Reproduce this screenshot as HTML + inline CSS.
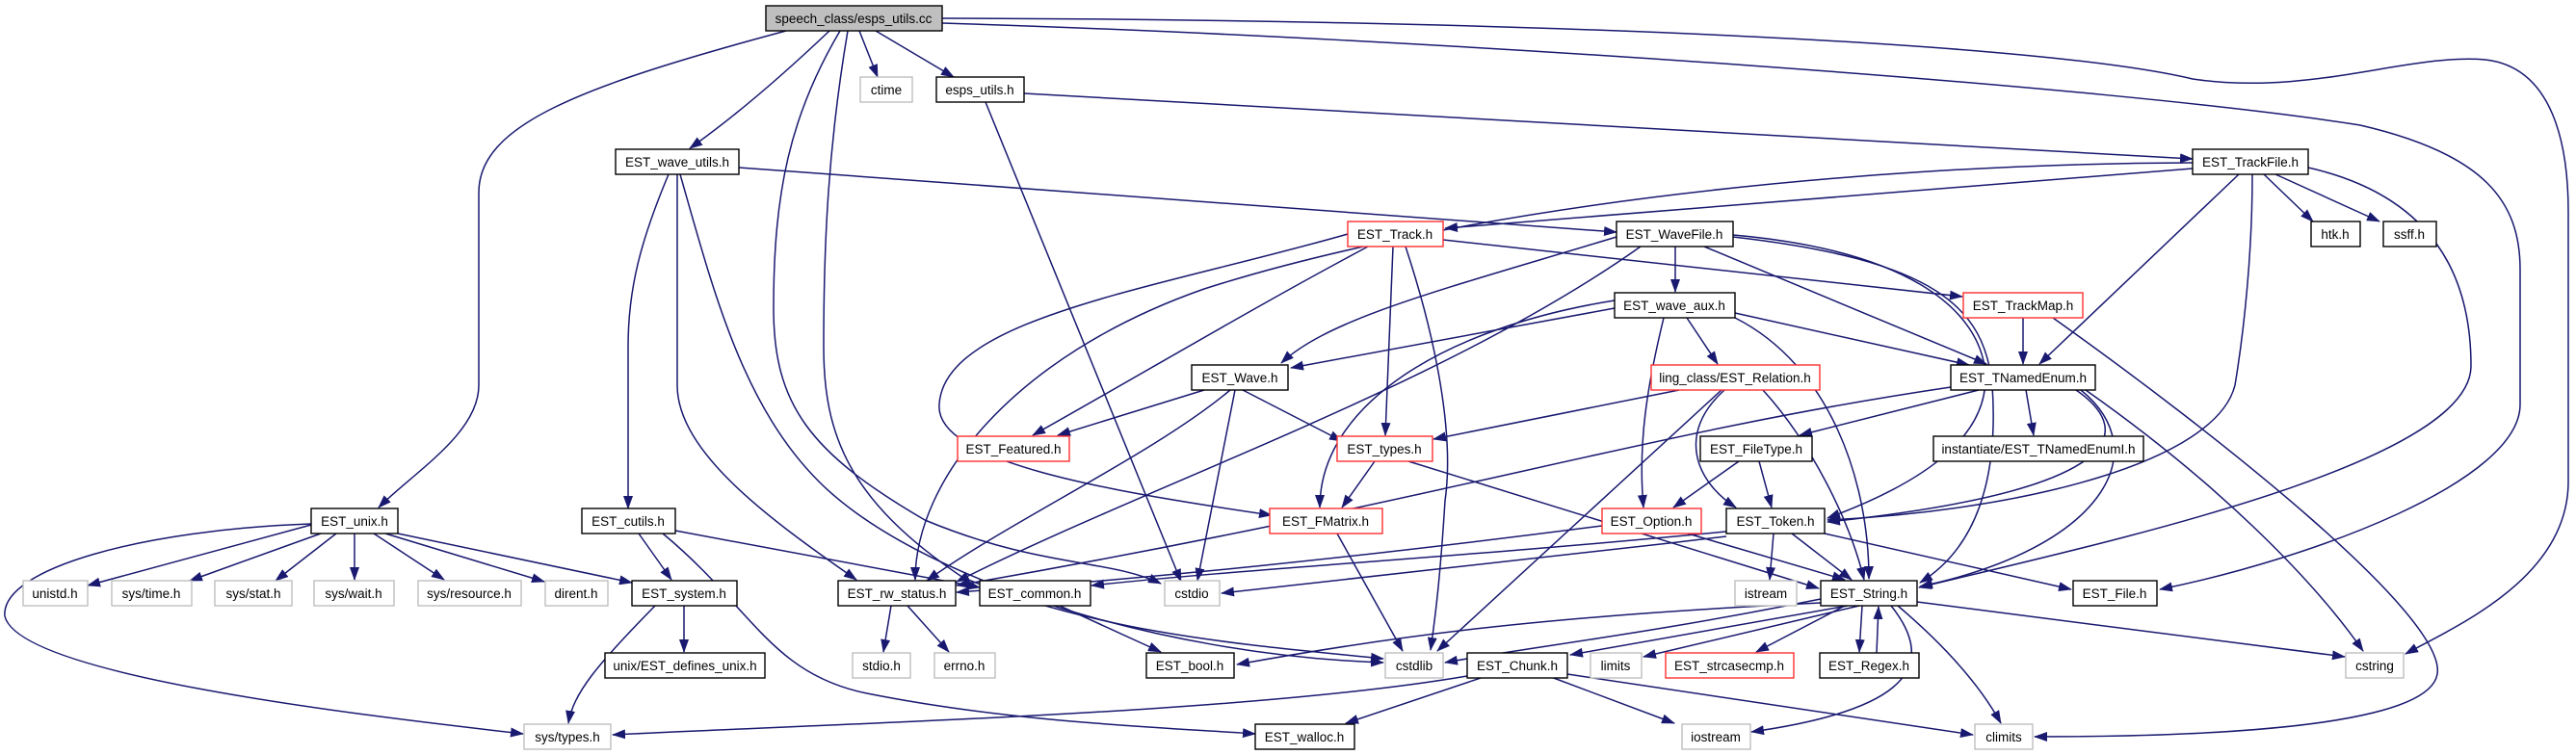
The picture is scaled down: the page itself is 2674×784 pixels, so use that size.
<!DOCTYPE html>
<html><head><meta charset="utf-8"><style>
html,body{margin:0;padding:0;background:#fff;}
svg{display:block;}
text{font-family:"Liberation Sans",Arial,sans-serif;font-size:13.5px;fill:#000;text-anchor:middle;}
.e{fill:none;stroke:#191970;stroke-width:1.5;marker-end:url(#a);}
.n{fill:#fff;stroke:#000;stroke-width:1.4;}
.g{fill:#fff;stroke:#bfbfbf;stroke-width:1.4;}
.r{fill:#fff;stroke:#ff3030;stroke-width:1.4;}
</style></head><body>
<svg width="2674" height="784" viewBox="0 0 2674 784" xmlns="http://www.w3.org/2000/svg">
<defs><marker id="a" markerWidth="14" markerHeight="10" refX="13" refY="5" orient="auto" markerUnits="userSpaceOnUse"><path d="M0,0 L14,5 L0,10 z" fill="#191970"/></marker></defs>
<!-- edges -->
<path class="e" d="M816,32 C600,90 497,130 497,200 L497,400 C497,450 430,490 393,527"/>
<path class="e" d="M861,32 C800,90 750,130 716,154"/>
<path class="e" d="M872,32 C820,120 803,200 803,320 C803,420 840,470 960,540 C1080,590 1150,580 1205,606"/>
<path class="e" d="M880,32 C860,150 855,250 855,360 C855,450 880,520 1000,600 C1150,660 1300,670 1436,684"/>
<path class="e" d="M892,32 L911,80"/>
<path class="e" d="M909,32 L990,80"/>
<path class="e" d="M978,19 C1500,20 2100,40 2276,82 C2400,100 2500,55 2580,62 C2650,70 2666,150 2666,220 L2666,500 C2666,600 2550,650 2497,679"/>
<path class="e" d="M978,24 C1500,40 2200,90 2450,130 C2580,160 2616,210 2616,280 L2616,420 C2616,500 2400,580 2242,612"/>
<path class="e" d="M1063,97 L2276,165"/>
<path class="e" d="M1023,106 L1226,604"/>
<path class="e" d="M767,174 L1678,241"/>
<path class="e" d="M694,181 C665,250 652,300 652,360 L652,528"/>
<path class="e" d="M703,181 L703,400 C703,470 800,540 889,602"/>
<path class="e" d="M706,181 C740,300 770,420 850,500 C950,600 1200,680 1436,688"/>
<path class="e" d="M2276,169 C1900,170 1500,220 1250,300 C1050,370 950,500 950,602"/>
<path class="e" d="M2276,175 L1500,237"/>
<path class="e" d="M2324,181 L2117,378"/>
<path class="e" d="M2338,181 C2338,260 2330,340 2320,400 C2300,480 2100,530 1897,540"/>
<path class="e" d="M2350,181 L2401,230"/>
<path class="e" d="M2362,181 L2470,230"/>
<path class="e" d="M2396,174 C2510,200 2565,270 2565,380 C2565,480 2200,560 1992,610"/>
<path class="e" d="M1498,249 L2037,308"/>
<path class="e" d="M1420,256 C1300,320 1200,380 1072,452"/>
<path class="e" d="M1446,256 L1438,452"/>
<path class="e" d="M1459,256 C1490,350 1510,450 1500,520 C1495,600 1490,640 1485,675"/>
<path class="e" d="M1399,243 C1200,300 980,330 975,420 C970,480 1150,510 1320,535"/>
<path class="e" d="M1739,256 L1739,303"/>
<path class="e" d="M1678,246 C1500,300 1380,330 1330,377"/>
<path class="e" d="M1703,256 C1500,400 1200,500 993,604"/>
<path class="e" d="M1769,256 L2062,378"/>
<path class="e" d="M1799,244 C1980,260 2050,320 2060,380 C2070,450 2000,500 1897,538"/>
<path class="e" d="M1799,246 C2010,270 2060,320 2068,400 C2075,500 2050,570 1993,605"/>
<path class="e" d="M1676,320 L1340,382"/>
<path class="e" d="M1676,312 C1500,340 1370,420 1370,527"/>
<path class="e" d="M1727,330 C1710,400 1700,460 1706,527"/>
<path class="e" d="M1751,330 L1783,378"/>
<path class="e" d="M1801,325 L2044,379"/>
<path class="e" d="M1801,330 C1900,380 1940,500 1940,601"/>
<path class="e" d="M2100,330 L2100,378"/>
<path class="e" d="M2131,330 C2300,450 2540,640 2530,700 C2520,760 2250,765 2112,765"/>
<path class="e" d="M1743,405 L1488,456"/>
<path class="e" d="M1787,405 L1492,676"/>
<path class="e" d="M1790,405 C1740,450 1760,500 1802,527"/>
<path class="e" d="M1830,405 C1880,460 1920,540 1935,602"/>
<path class="e" d="M2054,405 L1868,452"/>
<path class="e" d="M2103,405 L2111,452"/>
<path class="e" d="M2025,402 C1700,450 1500,520 993,608"/>
<path class="e" d="M2155,405 C2220,450 2200,510 1897,542"/>
<path class="e" d="M2160,405 C2240,470 2180,570 1993,609"/>
<path class="e" d="M2165,405 C2300,500 2400,600 2453,676"/>
<path class="e" d="M1250,405 L1098,452"/>
<path class="e" d="M1290,405 L1393,458"/>
<path class="e" d="M1277,405 C1200,470 1050,540 962,603"/>
<path class="e" d="M1282,405 L1243,603"/>
<path class="e" d="M1427,479 L1393,527"/>
<path class="e" d="M1462,479 L1888,611"/>
<path class="e" d="M1388,554 L1456,676"/>
<path class="e" d="M1805,479 L1737,527"/>
<path class="e" d="M1826,479 L1839,527"/>
<path class="e" d="M1752,554 L1915,602"/>
<path class="e" d="M1663,546 C1400,580 1200,600 993,615"/>
<path class="e" d="M1841,554 L1837,602"/>
<path class="e" d="M1860,554 L1922,602"/>
<path class="e" d="M1894,554 L2150,612"/>
<path class="e" d="M1792,557 C1600,580 1400,600 1268,616"/>
<path class="e" d="M1792,552 C1500,580 1300,590 1133,608"/>
<path class="e" d="M1890,622 C1700,660 1600,670 1500,688"/>
<path class="e" d="M1890,626 C1600,640 1450,660 1284,690"/>
<path class="e" d="M1918,629 L1630,680"/>
<path class="e" d="M1930,629 L1706,682"/>
<path class="e" d="M1915,629 L1823,677"/>
<path class="e" d="M1933,629 L1930,677"/>
<path class="e" d="M1948,678 L1950,630"/>
<path class="e" d="M1963,629 C2020,700 1960,740 1818,760"/>
<path class="e" d="M1970,629 C2030,680 2060,720 2077,751"/>
<path class="e" d="M1990,625 L2434,682"/>
<path class="e" d="M1523,702 C1300,740 900,750 636,763"/>
<path class="e" d="M1540,703 L1397,751"/>
<path class="e" d="M1610,703 L1738,751"/>
<path class="e" d="M1627,700 L2048,763"/>
<path class="e" d="M1100,629 L1205,677"/>
<path class="e" d="M925,629 L917,677"/>
<path class="e" d="M942,629 L985,677"/>
<path class="e" d="M663,554 L697,602"/>
<path class="e" d="M701,551 L1017,610"/>
<path class="e" d="M688,554 C780,630 800,700 900,720 C1050,750 1200,755 1303,762"/>
<path class="e" d="M323,545 L91,608"/>
<path class="e" d="M333,554 L197,603"/>
<path class="e" d="M349,554 L286,603"/>
<path class="e" d="M368,554 L368,602"/>
<path class="e" d="M388,554 L461,602"/>
<path class="e" d="M400,554 L565,604"/>
<path class="e" d="M413,554 L656,605"/>
<path class="e" d="M323,544 C150,550 0,590 5,640 C20,700 350,740 543,762"/>
<path class="e" d="M710,629 L710,677"/>
<path class="e" d="M680,629 C620,690 595,720 590,751"/>
<!-- nodes -->
<rect x="795" y="6" width="183" height="26" fill="#bfbfbf" stroke="#000" stroke-width="1.4"/><text x="886" y="24">speech_class/esps_utils.cc</text>
<rect class="g" x="893" y="80" width="54" height="26"/><text x="920" y="98">ctime</text>
<rect class="n" x="972" y="80" width="91" height="26"/><text x="1017" y="98">esps_utils.h</text>
<rect class="n" x="639" y="155" width="128" height="26"/><text x="703" y="173">EST_wave_utils.h</text>
<rect class="n" x="2276" y="155" width="120" height="26"/><text x="2336" y="173">EST_TrackFile.h</text>
<rect class="r" x="1399" y="230" width="99" height="26"/><text x="1448" y="248">EST_Track.h</text>
<rect class="n" x="1678" y="230" width="121" height="26"/><text x="1738" y="248">EST_WaveFile.h</text>
<rect class="n" x="2399" y="230" width="51" height="26"/><text x="2424" y="248">htk.h</text>
<rect class="n" x="2474" y="230" width="55" height="26"/><text x="2501" y="248">ssff.h</text>
<rect class="n" x="1676" y="304" width="125" height="26"/><text x="1738" y="322">EST_wave_aux.h</text>
<rect class="r" x="2038" y="304" width="124" height="26"/><text x="2100" y="322">EST_TrackMap.h</text>
<rect class="n" x="1237" y="379" width="100" height="26"/><text x="1287" y="397">EST_Wave.h</text>
<rect class="r" x="1714" y="379" width="175" height="26"/><text x="1801" y="397">ling_class/EST_Relation.h</text>
<rect class="n" x="2025" y="379" width="150" height="26"/><text x="2100" y="397">EST_TNamedEnum.h</text>
<rect class="r" x="994" y="453" width="116" height="26"/><text x="1052" y="471">EST_Featured.h</text>
<rect class="r" x="1388" y="453" width="99" height="26"/><text x="1437" y="471">EST_types.h</text>
<rect class="n" x="1765" y="453" width="116" height="26"/><text x="1823" y="471">EST_FileType.h</text>
<rect class="n" x="2007" y="453" width="218" height="26"/><text x="2116" y="471">instantiate/EST_TNamedEnumI.h</text>
<rect class="n" x="323" y="528" width="90" height="26"/><text x="368" y="546">EST_unix.h</text>
<rect class="n" x="604" y="528" width="97" height="26"/><text x="652" y="546">EST_cutils.h</text>
<rect class="r" x="1318" y="528" width="117" height="26"/><text x="1376" y="546">EST_FMatrix.h</text>
<rect class="r" x="1663" y="528" width="103" height="26"/><text x="1714" y="546">EST_Option.h</text>
<rect class="n" x="1792" y="528" width="102" height="26"/><text x="1843" y="546">EST_Token.h</text>
<rect class="g" x="24" y="603" width="67" height="26"/><text x="57" y="621">unistd.h</text>
<rect class="g" x="116" y="603" width="83" height="26"/><text x="157" y="621">sys/time.h</text>
<rect class="g" x="223" y="603" width="80" height="26"/><text x="263" y="621">sys/stat.h</text>
<rect class="g" x="326" y="603" width="83" height="26"/><text x="367" y="621">sys/wait.h</text>
<rect class="g" x="434" y="603" width="107" height="26"/><text x="487" y="621">sys/resource.h</text>
<rect class="g" x="566" y="603" width="65" height="26"/><text x="598" y="621">dirent.h</text>
<rect class="n" x="656" y="603" width="109" height="26"/><text x="710" y="621">EST_system.h</text>
<rect class="n" x="870" y="603" width="122" height="26"/><text x="931" y="621">EST_rw_status.h</text>
<rect class="n" x="1017" y="603" width="115" height="26"/><text x="1074" y="621">EST_common.h</text>
<rect class="g" x="1209" y="603" width="57" height="26"/><text x="1237" y="621">cstdio</text>
<rect class="g" x="1801" y="603" width="64" height="26"/><text x="1833" y="621">istream</text>
<rect class="n" x="1890" y="603" width="100" height="26"/><text x="1940" y="621">EST_String.h</text>
<rect class="n" x="2152" y="603" width="87" height="26"/><text x="2195" y="621">EST_File.h</text>
<rect class="n" x="628" y="678" width="166" height="26"/><text x="711" y="696">unix/EST_defines_unix.h</text>
<rect class="g" x="885" y="678" width="60" height="26"/><text x="915" y="696">stdio.h</text>
<rect class="g" x="970" y="678" width="63" height="26"/><text x="1001" y="696">errno.h</text>
<rect class="n" x="1190" y="678" width="91" height="26"/><text x="1235" y="696">EST_bool.h</text>
<rect class="g" x="1438" y="678" width="60" height="26"/><text x="1468" y="696">cstdlib</text>
<rect class="n" x="1523" y="678" width="104" height="26"/><text x="1575" y="696">EST_Chunk.h</text>
<rect class="g" x="1651" y="678" width="53" height="26"/><text x="1677" y="696">limits</text>
<rect class="r" x="1729" y="678" width="133" height="26"/><text x="1795" y="696">EST_strcasecmp.h</text>
<rect class="n" x="1889" y="678" width="103" height="26"/><text x="1940" y="696">EST_Regex.h</text>
<rect class="g" x="2435" y="678" width="60" height="26"/><text x="2465" y="696">cstring</text>
<rect class="g" x="544" y="752" width="90" height="26"/><text x="589" y="770">sys/types.h</text>
<rect class="n" x="1303" y="752" width="103" height="26"/><text x="1354" y="770">EST_walloc.h</text>
<rect class="g" x="1746" y="752" width="71" height="26"/><text x="1781" y="770">iostream</text>
<rect class="g" x="2050" y="752" width="60" height="26"/><text x="2080" y="770">climits</text>
</svg>
</body></html>
